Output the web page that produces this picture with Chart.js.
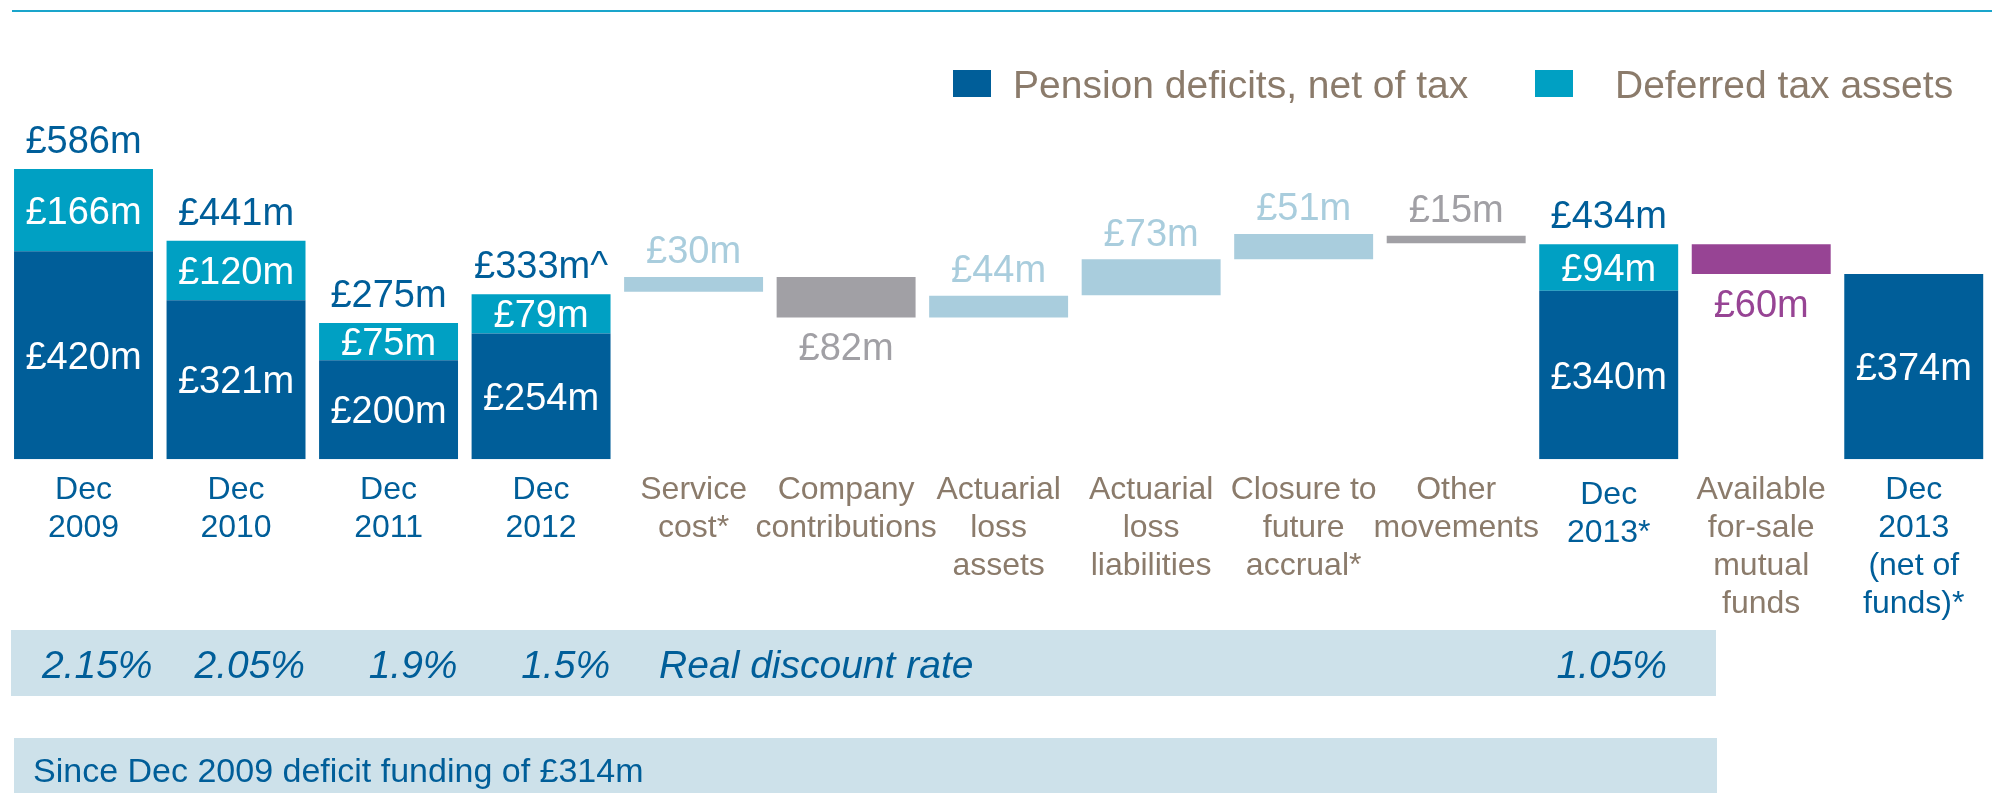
<!DOCTYPE html>
<html>
<head>
<meta charset="utf-8">
<script src="https://cdn.jsdelivr.net/npm/chart.js@4.4.1/dist/chart.umd.min.js"></script>
<style>
  html, body { margin: 0; padding: 0; background: #fff; }
</style>
</head>
<body>
<canvas id="pensionChart" width="1992" height="793"></canvas>
<script>
// data (£m)
const categories = [
  ['Dec', '2009'], ['Dec', '2010'], ['Dec', '2011'], ['Dec', '2012'],
  ['Service', 'cost*'], ['Company', 'contributions'], ['Actuarial', 'loss', 'assets'],
  ['Actuarial', 'loss', 'liabilities'], ['Closure to', 'future', 'accrual*'], ['Other', 'movements'],
  ['Dec', '2013*'], ['Available', 'for-sale', 'mutual', 'funds'], ['Dec', '2013', '(net of', 'funds)*']
];
const isBalance = [true, true, true, true, false, false, false, false, false, false, true, false, true];
const pensionDeficits = [420, 321, 200, 254, null, null, null, null, null, null, 340, null, 374];
const deferredTax = [166, 120, 75, 79, null, null, null, null, null, null, 94, null, null];
const movements = [null, null, null, null, [338, 368], [286, 368], [286, 330], [331, 404], [404, 455], [436, 451], null, [374, 434], null];
const totalNotes = ['', '', '', '^', '', '', '', '', '', '', '', '', ''];
const labelBelow = [false, false, false, false, false, true, false, false, false, false, false, true, false];
const discountRates = ['2.15%', '2.05%', '1.9%', '1.5%', null, null, null, null, null, null, '1.05%', null, null];
const rateTitle = 'Real discount rate';
const footNote = 'Since Dec 2009 deficit funding of £314m';

// styles
const DARK = '#005e99';
const TEAL = '#00a0c3';
const LIGHT = '#a9cddd';
const GREY = '#a1a0a5';
const PURPLE = '#974494';
const BROWN = '#8b7b6b';
const BAND = '#cde1ea';
const RULE = '#1aa5cb';
const FONT = '"Liberation Sans", Arial, sans-serif';
const movementColors = [null, null, null, null, LIGHT, GREY, LIGHT, LIGHT, LIGHT, GREY, null, PURPLE, null];

const extras = {
  id: 'extras',
  beforeDraw(chart) {
    const c = chart.ctx;
    c.save();
    c.fillStyle = '#fff';
    c.fillRect(0, 0, chart.width, chart.height);
    // top rule
    c.fillStyle = RULE;
    c.fillRect(12, 10, chart.width - 12, 2);
    // legend
    c.font = '39px ' + FONT;
    c.textBaseline = 'alphabetic';
    c.fillStyle = DARK;
    c.fillRect(953, 70, 38, 27);
    c.fillStyle = TEAL;
    c.fillRect(1535, 70, 38, 27);
    c.fillStyle = BROWN;
    c.fillText(chart.data.datasets[0].label, 1013, 97.5);
    c.fillText(chart.data.datasets[1].label, 1615, 97.5);
    // bands
    c.fillStyle = BAND;
    c.fillRect(11, 630, 1705, 66);
    c.fillRect(14, 738, 1703, 60);
    c.restore();
  },
  afterDatasetsDraw(chart) {
    const c = chart.ctx;
    const x = chart.scales.x;
    const m0 = chart.getDatasetMeta(0), m1 = chart.getDatasetMeta(1), m2 = chart.getDatasetMeta(2);
    c.save();
    c.textAlign = 'center';
    c.textBaseline = 'alphabetic';
    c.font = '38px ' + FONT;
    const cap = 13.6;
    categories.forEach((lines, i) => {
      const px = x.getPixelForValue(i);
      // inside labels
      if (pensionDeficits[i] != null) {
        const b = m0.data[i];
        c.fillStyle = '#fff';
        c.fillText('£' + pensionDeficits[i] + 'm', px, (b.y + b.base) / 2 + cap);
        if (deferredTax[i] != null) {
          const t = m1.data[i];
          c.fillText('£' + deferredTax[i] + 'm', px, (t.y + t.base) / 2 + cap);
          c.fillStyle = DARK;
          c.fillText('£' + (pensionDeficits[i] + deferredTax[i]) + 'm' + totalNotes[i], px, t.y - 16);
        }
      }
      if (movements[i] != null) {
        const e = m2.data[i];
        const top = Math.min(e.y, e.base), bot = Math.max(e.y, e.base);
        const diff = Math.abs(movements[i][1] - movements[i][0]);
        c.fillStyle = movementColors[i];
        if (labelBelow[i]) c.fillText('£' + diff + 'm', px, bot + 42.5);
        else c.fillText('£' + diff + 'm', px, top - 13.5);
      }
    });
    // category labels
    c.font = '32px ' + FONT;
    categories.forEach((lines, i) => {
      const px = x.getPixelForValue(i);
      const dy = i === 10 ? 5 : 0; // Dec 2013* sits a little lower in the original
      c.fillStyle = isBalance[i] ? DARK : BROWN;
      lines.forEach((ln, k) => c.fillText(ln, px, 499 + dy + k * 38));
    });
    // discount rates
    c.font = 'italic 39px ' + FONT;
    c.fillStyle = DARK;
    discountRates.forEach((r, i) => {
      if (r == null) return;
      const px = x.getPixelForValue(i);
      if (i < 4) { c.textAlign = 'right'; c.fillText(r, px + 69, 678); }
      else { c.textAlign = 'center'; c.fillText(r, px + 3, 678); }
    });
    c.textAlign = 'left';
    c.fillText(rateTitle, x.getPixelForValue(4) - 34.5, 678);
    c.font = '34px ' + FONT;
    c.fillText(footNote, 33, 781.5);
    c.restore();
  }
};

const ctx = document.getElementById('pensionChart').getContext('2d');
new Chart(ctx, {
  type: 'bar',
  data: {
    labels: categories,
    datasets: [
      { label: 'Pension deficits, net of tax', data: pensionDeficits, backgroundColor: DARK, stack: 'bal' },
      { label: 'Deferred tax assets', data: deferredTax, backgroundColor: TEAL, stack: 'bal' },
      { label: 'Movements', data: movements, backgroundColor: movementColors, stack: 'move', grouped: false }
    ]
  },
  options: {
    responsive: false,
    animation: false,
    layout: { padding: { left: 7.25, right: 2, top: 112.5, bottom: 333.7 } },
    datasets: { bar: { categoryPercentage: 1, barPercentage: 0.911, borderWidth: 0 } },
    scales: {
      x: { display: false },
      y: { display: false, stacked: true, min: 0, max: 700 }
    },
    plugins: { legend: { display: false }, tooltip: { enabled: false } }
  },
  plugins: [extras]
});
</script>
</body>
</html>
